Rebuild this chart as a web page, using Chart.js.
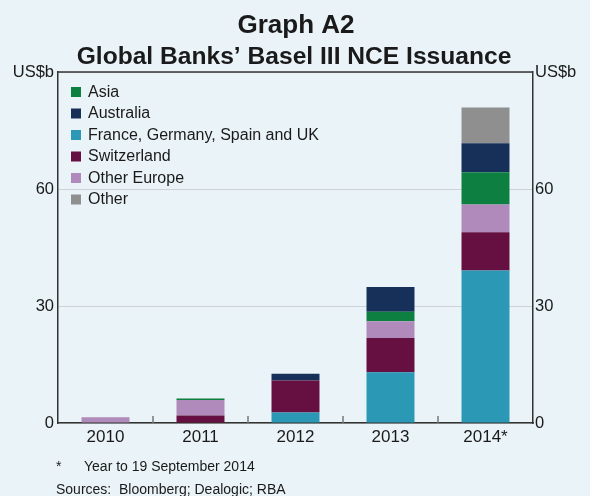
<!DOCTYPE html>
<html>
<head>
<meta charset="utf-8">
<script src="https://cdn.jsdelivr.net/npm/chart.js@4/dist/chart.umd.min.js"></script>
<style>
  html, body { margin: 0; padding: 0; background: #eaf3f7; }
  canvas { display: block; }
</style>
</head>
<body>
<canvas id="myChart" width="590" height="496"></canvas>
<script>
// years on the x axis
var years = ['2010', '2011', '2012', '2013', '2014*'];

// issuance by region, US$b (bottom of stack first)
var franceEtc = [0, 0, 2.7, 13.0, 39.1];
var switzerland = [0, 1.9, 8.2, 8.8, 9.8];
var otherEurope = [1.45, 4.0, 0, 4.3, 7.1];
var asia = [0, 0.4, 0, 2.4, 8.3];
var australia = [0, 0, 1.7, 6.4, 7.4];
var other = [0, 0, 0, 0, 9.2];

var yTicks = [0, 30, 60, 90];
var legendOrder = ['Asia', 'Australia', 'France, Germany, Spain and UK', 'Switzerland', 'Other Europe', 'Other'];

var FONT = '"Liberation Sans", Arial, sans-serif';
var TEXT = '#1a1a1a';
var AXIS = '#333';

function makeSet(label, data, color) {
    return {
        label: label,
        data: data,
        backgroundColor: color,
        borderWidth: 0,
        barPercentage: 0.505,
        categoryPercentage: 1
    };
}

// titles, legend, footnotes, inner ticks and frame
var decorations = {
    id: 'decorations',
    beforeDraw: function (chart) {
        var ctx = chart.ctx;
        ctx.save();
        ctx.fillStyle = '#eaf3f7';
        ctx.fillRect(0, 0, chart.width, chart.height);
        ctx.restore();
    },
    afterDraw: function (chart) {
        var ctx = chart.ctx;
        var area = chart.chartArea;
        var x = chart.scales.x;
        ctx.save();

        // titles
        ctx.fillStyle = TEXT;
        ctx.textAlign = 'center';
        ctx.textBaseline = 'alphabetic';
        ctx.font = 'bold 26px ' + FONT;
        ctx.fillText('Graph A2', 296, 33);
        ctx.font = 'bold 24.6px ' + FONT;
        ctx.fillText('Global Banks\u2019 Basel III NCE Issuance', 294, 64);

        // top frame line
        ctx.strokeStyle = AXIS;
        ctx.lineWidth = 1.5;
        ctx.beginPath();
        ctx.moveTo(area.left, area.top);
        ctx.lineTo(area.right, area.top);
        ctx.stroke();

        // small ticks between categories, pointing up
        ctx.strokeStyle = '#777';
        ctx.lineWidth = 1.5;
        var half = (x.getPixelForValue(1) - x.getPixelForValue(0)) / 2;
        for (var i = 1; i < years.length; i++) {
            var px = Math.round(x.getPixelForValue(i) - half);
            ctx.beginPath();
            ctx.moveTo(px, area.bottom);
            ctx.lineTo(px, area.bottom - 7);
            ctx.stroke();
        }

        // legend
        ctx.font = '16px ' + FONT;
        ctx.textAlign = 'left';
        ctx.textBaseline = 'middle';
        legendOrder.forEach(function (name, k) {
            var ds = chart.data.datasets.find(function (d) { return d.label === name; });
            var cy = 92 + k * 21.5;
            ctx.fillStyle = ds.backgroundColor;
            ctx.fillRect(71, cy - 5, 10, 10);
            ctx.fillStyle = TEXT;
            ctx.fillText(name, 88, cy + 0.5);
        });

        // footnotes
        ctx.font = '14px ' + FONT;
        ctx.textBaseline = 'alphabetic';
        ctx.fillText('*', 56, 471);
        ctx.fillText('Year to 19 September 2014', 84, 471);
        ctx.fillText('Sources:  Bloomberg; Dealogic; RBA', 56, 494);
        ctx.restore();
    }
};

var ctx = document.getElementById('myChart').getContext('2d');
var myChart = new Chart(ctx, {
    type: 'bar',
    data: {
        labels: years,
        datasets: [
            makeSet('France, Germany, Spain and UK', franceEtc, '#2b98b6'),
            makeSet('Switzerland', switzerland, '#660f41'),
            makeSet('Other Europe', otherEurope, '#b08aba'),
            makeSet('Asia', asia, '#0d7f41'),
            makeSet('Australia', australia, '#17305a'),
            makeSet('Other', other, '#8f8f90')
        ]
    },
    options: {
        responsive: false,
        animation: false,
        events: [],
        layout: {
            padding: { top: 72, left: 0, right: 0, bottom: 0 }
        },
        plugins: {
            legend: { display: false },
            tooltip: { enabled: false }
        },
        scales: {
            x: {
                stacked: true,
                grid: { display: false, drawTicks: false },
                border: { display: true, color: AXIS, width: 1.5 },
                ticks: {
                    color: TEXT,
                    font: { family: FONT, size: 17 },
                    padding: 4,
                    maxRotation: 0
                },
                afterFit: function (scale) { scale.height = 73; }
            },
            y: {
                stacked: true,
                position: 'left',
                min: 0,
                max: 90,
                afterBuildTicks: function (scale) {
                    scale.ticks = yTicks.map(function (v) { return { value: v }; });
                },
                grid: { color: '#cdd2d5', lineWidth: 1, drawTicks: false },
                border: { display: true, color: AXIS, width: 1.5 },
                ticks: {
                    color: TEXT,
                    font: { family: FONT, size: 16.5 },
                    padding: 4,
                    callback: function (v) { return v === 90 ? 'US$b' : v; }
                },
                afterFit: function (scale) { scale.width = 58; }
            },
            y2: {
                position: 'right',
                min: 0,
                max: 90,
                afterBuildTicks: function (scale) {
                    scale.ticks = yTicks.map(function (v) { return { value: v }; });
                },
                grid: { display: false, drawTicks: false },
                border: { display: true, color: AXIS, width: 1.5 },
                ticks: {
                    color: TEXT,
                    font: { family: FONT, size: 16.5 },
                    padding: 2,
                    callback: function (v) { return v === 90 ? 'US$b' : v; }
                },
                afterFit: function (scale) { scale.width = 57; }
            }
        }
    },
    plugins: [decorations]
});
</script>
</body>
</html>
